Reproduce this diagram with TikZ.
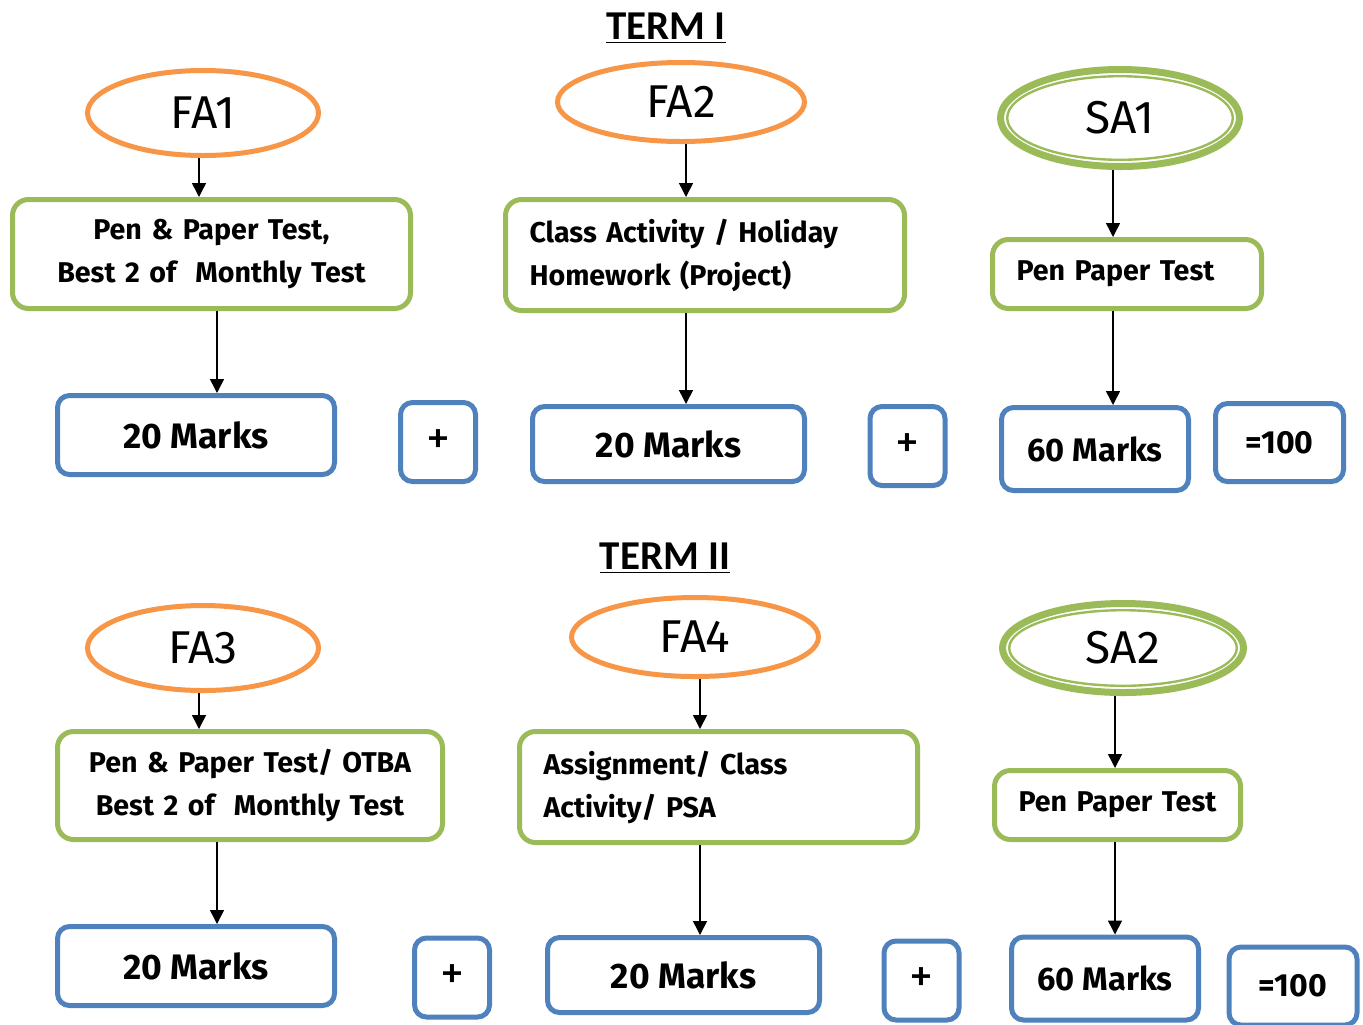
\documentclass[tikz,border=0pt]{standalone}
\usepackage{fontspec}
\setmainfont{Fira Sans}
\newfontfamily\titlefont{Carlito}
\usetikzlibrary{shapes.geometric,arrows.meta}
\definecolor{faorange}{HTML}{F79646}
\definecolor{boxgreen}{HTML}{9BBB59}
\definecolor{boxblue}{HTML}{4F81BD}

\begin{document}
\begin{tikzpicture}[x=0.5pt,y=-0.5pt,
    fa/.style={ellipse,draw=faorange,line width=2.5pt,inner sep=0pt,
      minimum width=115.5pt,minimum height=42.5pt,font=\fontsize{23}{23}\selectfont},
    sa/.style={ellipse,draw=boxgreen,line width=3.5pt,inner sep=0pt,
      minimum width=119.5pt,minimum height=48.5pt,font=\fontsize{23}{23}\selectfont},
    greenbox/.style={draw=boxgreen,line width=2.5pt,rounded corners=8pt,inner xsep=12pt,
      text width=#1,font=\bfseries\fontsize{14.3}{21.5}\selectfont},
    marks/.style={draw=boxblue,line width=2.5pt,rounded corners=6pt,
      font=\bfseries\fontsize{17.7}{17.7}\selectfont},
    plus/.style={marks,minimum width=37.5pt,minimum height=39.5pt,font=\fontsize{24}{24}\selectfont},
    sixty/.style={marks,minimum width=93.5pt,minimum height=41.5pt,font=\bfseries\fontsize{16.3}{16.3}\selectfont},
    hundred/.style={marks,minimum width=64pt,minimum height=39pt,font=\bfseries\fontsize{16}{16}\selectfont},
    arr/.style={-{Triangle[length=7pt,width=7pt]},line width=0.75pt},
    term/.style={font=\titlefont\bfseries\fontsize{20.5}{20.5}\selectfont}]
  \useasboundingbox (0,0) rectangle (1363,1024);

  % term I
  \node[term] (t1) at (666,28) {\underline{TERM I}};
  \node[fa] (fa1) at (203,113) {FA1};
  \node[greenbox=175pt,align=center,minimum height=54.5pt] (fa1box) at (211.5,254)
    {Pen \& Paper Test,\\Best 2 of\ \ Monthly Test};
  \node[marks,minimum width=138.5pt,minimum height=39.5pt] (m1) at (196,435) {20 Marks};
  \node[plus] (p1) at (438,442) {+};

  \node[fa,minimum width=123.5pt,minimum height=39.5pt] (fa2) at (681,102) {FA2};
  \node[greenbox=175.5pt,align=left,minimum height=55.5pt] (fa2box) at (705,255)
    {Class Activity / Holiday\\Homework (Project)};
  \node[marks,minimum width=136pt,minimum height=37.5pt] (m2) at (668.5,444) {20 Marks};
  \node[plus] (p2) at (907.5,446) {+};

  \node[sa] (sa1) at (1120,118) {SA1};
  \draw[boxgreen,line width=1.2pt] (sa1.center) ellipse [x radius=56.4pt,y radius=20.9pt];
  \node[greenbox=110.5pt,align=left,minimum height=34.5pt] (sa1box) at (1127,274) {Pen Paper Test};
  \node[sixty] (m3) at (1095,449) {60 Marks};
  \node[hundred] (e1) at (1279.5,442.5) {=100};

  \draw[arr] ([xshift=-2pt]fa1.south) -- ([xshift=-2pt]fa1.south |- fa1box.north);
  \draw[arr] ([xshift=2.75pt]fa1box.south) -- ([xshift=2.75pt]fa1box.south |- m1.north);
  \draw[arr] ([xshift=2.5pt]fa2.south) -- ([xshift=2.5pt]fa2.south |- fa2box.north);
  \draw[arr] ([xshift=-9.5pt]fa2box.south) -- ([xshift=-9.5pt]fa2box.south |- m2.north);
  \draw[arr] ([xshift=-3.5pt]sa1.south) -- ([xshift=-3.5pt]sa1.south |- sa1box.north);
  \draw[arr] ([xshift=-7pt]sa1box.south) -- ([xshift=-7pt]sa1box.south |- m3.north);

  % term II
  \node[term] (t2) at (665,558) {\underline{TERM II}};
  \node[fa] (fa3) at (203,648) {FA3};
  \node[greenbox=168.5pt,align=center,minimum height=54pt] (fa3box) at (250,785.5)
    {Pen \& Paper Test/ OTBA\\Best 2 of\ \ Monthly Test};
  \node[marks,minimum width=138.5pt,minimum height=39.5pt] (m4) at (196,966) {20 Marks};
  \node[plus] (p3) at (452,977.5) {+};

  \node[fa,minimum width=123.5pt,minimum height=39.5pt] (fa4) at (695,637) {FA4};
  \node[greenbox=175pt,align=left,minimum height=55.5pt] (fa4box) at (718.5,787)
    {Assignment/ Class\\Activity/ PSA};
  \node[marks,minimum width=136pt,minimum height=37.5pt] (m5) at (683.5,975) {20 Marks};
  \node[plus] (p4) at (921.5,980.5) {+};

  \node[sa,minimum width=120.5pt,minimum height=44.5pt] (sa2) at (1123,648) {SA2};
  \draw[boxgreen,line width=1.2pt] (sa2.center) ellipse [x radius=56.9pt,y radius=18.9pt];
  \node[greenbox=99pt,align=left,minimum height=34.5pt] (sa2box) at (1117.5,805) {Pen Paper Test};
  \node[sixty] (m6) at (1105,978.5) {60 Marks};
  \node[hundred] (e2) at (1293,986) {=100};

  \draw[arr] ([xshift=-2pt]fa3.south) -- ([xshift=-2pt]fa3.south |- fa3box.north);
  \draw[arr] ([xshift=-16.5pt]fa3box.south) -- ([xshift=-16.5pt]fa3box.south |- m4.north);
  \draw[arr] ([xshift=2.5pt]fa4.south) -- ([xshift=2.5pt]fa4.south |- fa4box.north);
  \draw[arr] ([xshift=-9.25pt]fa4box.south) -- ([xshift=-9.25pt]fa4box.south |- m5.north);
  \draw[arr] ([xshift=-4pt]sa2.south) -- ([xshift=-4pt]sa2.south |- sa2box.north);
  \draw[arr] ([xshift=-1.25pt]sa2box.south) -- ([xshift=-1.25pt]sa2box.south |- m6.north);
\end{tikzpicture}
\end{document}
